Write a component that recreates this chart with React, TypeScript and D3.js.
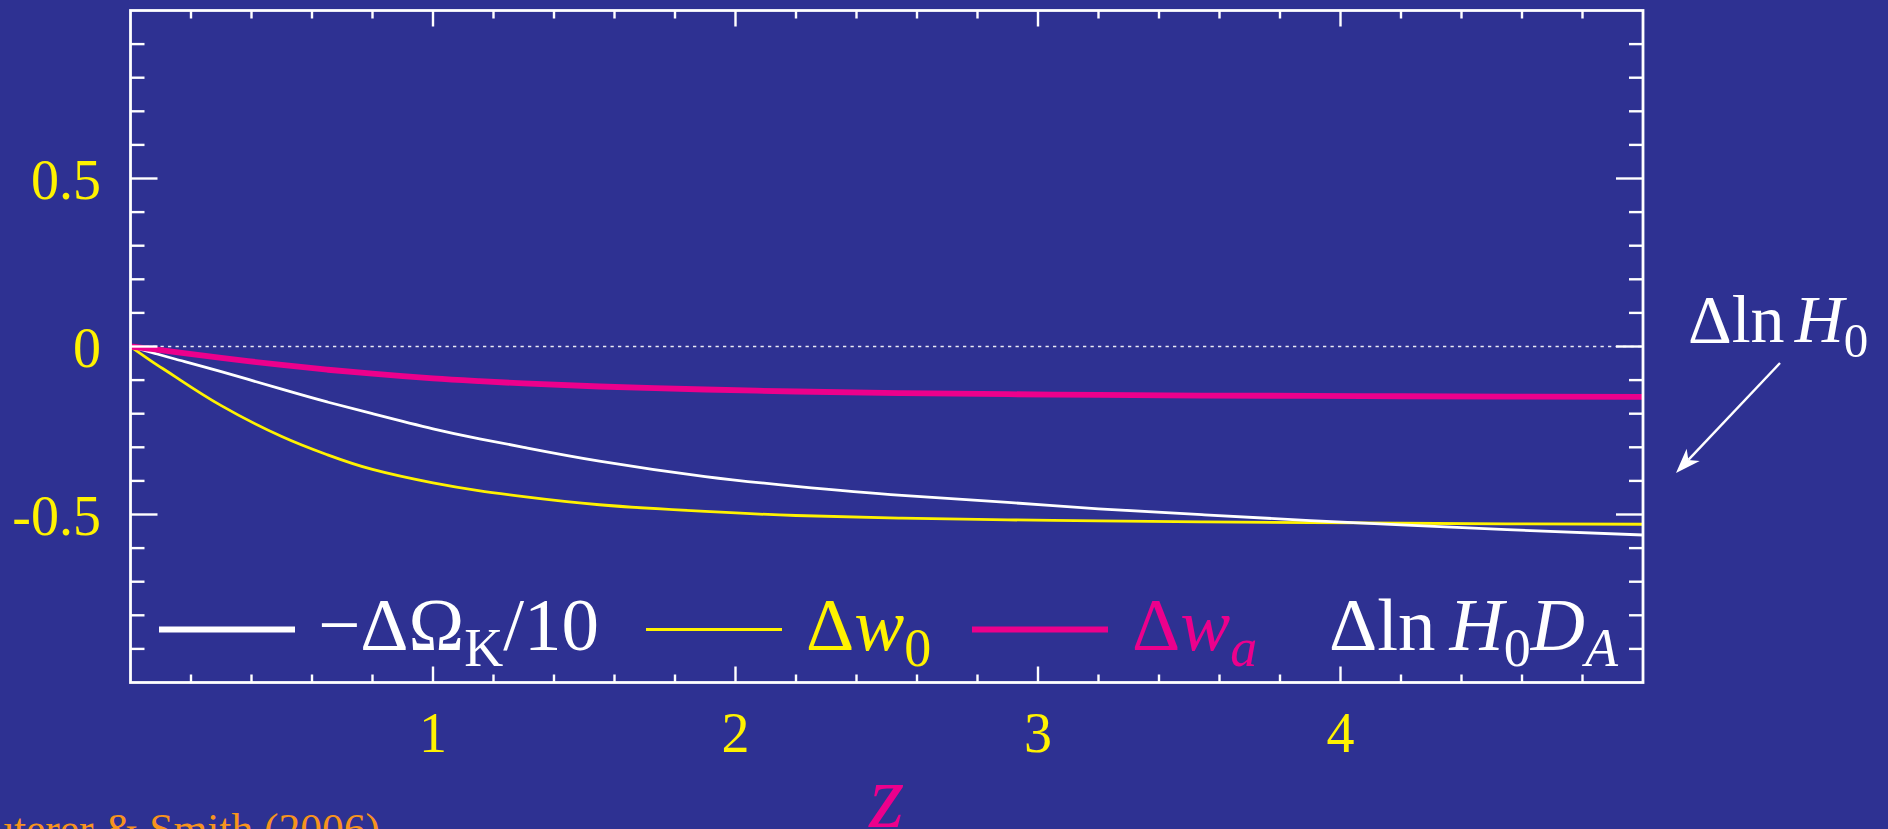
import React from "react";
import * as d3 from "d3";

// Redshift samples and the three parameter responses
const redshift = [0, 0.075, 0.15, 0.3, 0.5, 0.65, 0.8, 1.0, 1.15, 1.3, 1.55, 1.9, 2.2, 2.55, 2.9, 3.2, 3.55, 3.9, 4.2, 4.55, 5.0];
const dOmegaK = [0, -0.019, -0.038, -0.075, -0.127, -0.165, -0.2, -0.245, -0.274, -0.3, -0.341, -0.387, -0.416, -0.443, -0.464, -0.483, -0.501, -0.518, -0.531, -0.545, -0.561];
const dW0 = [0, -0.047, -0.091, -0.176, -0.268, -0.322, -0.366, -0.406, -0.429, -0.447, -0.471, -0.491, -0.503, -0.511, -0.516, -0.519, -0.522, -0.524, -0.526, -0.528, -0.529];
const dWa = [0, -0.008, -0.017, -0.034, -0.055, -0.069, -0.081, -0.095, -0.103, -0.11, -0.119, -0.128, -0.134, -0.139, -0.142, -0.144, -0.146, -0.147, -0.148, -0.149, -0.15];

const xTickValues = [1, 2, 3, 4];
const xTickLabels = ["1", "2", "3", "4"];
const yTickValues = [-0.5, 0, 0.5];
const yTickLabels = ["-0.5", "0", "0.5"];

const W = 1888;
const H = 829;
const BG = "#2E3192";
const YELLOW = "#FFF200";
const MAGENTA = "#EC008C";
const ORANGE = "#F7941D";
const WHITE = "#FFFFFF";
const FONT = "'Liberation Serif', 'Times New Roman', Times, serif";

const plot = { left: 130.5, right: 1643, top: 10.5, bottom: 682.5 };

export default function App() {
  const x = d3.scaleLinear().domain([0, 5]).range([plot.left, plot.right]);
  const y = d3.scaleLinear().domain([-1, 1]).range([plot.bottom, plot.top]);

  const line = d3
    .line<number>()
    .x((_, i) => x(redshift[i]))
    .y((d) => y(d))
    .curve(d3.curveNatural);

  const xMinor = d3.range(0.2, 5, 0.2).filter((v) => Math.abs(v - Math.round(v)) > 1e-6);
  const yMinor = d3.range(-0.9, 0.95, 0.1).filter((v) => Math.abs(v * 2 - Math.round(v * 2)) > 1e-6);

  const xMajorLen = 16, xMinorLen = 8, yMajorLen = 27, yMinorLen = 14;

  // legend layout
  const legY = 629.5;
  const legBase = 650;
  const lineLen = 136;
  const legendRows = [
    { x0: 159, color: WHITE, width: 6 },
    { x0: 646, color: YELLOW, width: 3 },
    { x0: 972, color: MAGENTA, width: 6 },
  ];
  const textGap = 23;
  const FS = 75;
  const SUB = 54;
  const SUBDY = 16;

  // annotation arrow
  const aStart: [number, number] = [1780, 363];
  const aTip: [number, number] = [1676, 473];
  const dx = aTip[0] - aStart[0], dy = aTip[1] - aStart[1];
  const len = Math.hypot(dx, dy);
  const ux = dx / len, uy = dy / len;
  const nx = -uy, ny = ux;
  const headL = 25, headW = 9;
  const bx = aTip[0] - ux * headL, by = aTip[1] - uy * headL;
  const notchX = aTip[0] - ux * headL * 0.72, notchY = aTip[1] - uy * headL * 0.72;
  const head = [
    [aTip[0], aTip[1]],
    [bx + nx * headW, by + ny * headW],
    [notchX, notchY],
    [bx - nx * headW, by - ny * headW],
  ]
    .map((p) => p.join(","))
    .join(" ");

  return (
    <svg
      width={W}
      height={H}
      viewBox={`0 0 ${W} ${H}`}
      style={{ position: "absolute", left: 0, top: 0, display: "block" }}
      fontFamily={FONT}
    >
      <rect x={0} y={0} width={W} height={H} fill={BG} />

      {/* zero reference */}
      <line
        x1={plot.left}
        x2={plot.right}
        y1={y(0)}
        y2={y(0)}
        stroke={WHITE}
        strokeWidth={1.6}
        strokeDasharray="3.3,4.2"
        opacity={0.9}
      />

      {/* curves */}
      <path d={line(dW0) || ""} fill="none" stroke={YELLOW} strokeWidth={2.8} />
      <path d={line(dOmegaK) || ""} fill="none" stroke={WHITE} strokeWidth={2.8} />
      <path d={line(dWa) || ""} fill="none" stroke={MAGENTA} strokeWidth={5.8} />

      {/* frame */}
      <rect
        x={plot.left}
        y={plot.top}
        width={plot.right - plot.left}
        height={plot.bottom - plot.top}
        fill="none"
        stroke={WHITE}
        strokeWidth={2.8}
      />

      {/* ticks on all four sides */}
      <g stroke={WHITE} strokeWidth={2.4}>
        {xTickValues.map((v) => (
          <g key={"xM" + v}>
            <line x1={x(v)} x2={x(v)} y1={plot.bottom} y2={plot.bottom - xMajorLen} />
            <line x1={x(v)} x2={x(v)} y1={plot.top} y2={plot.top + xMajorLen} />
          </g>
        ))}
        {xMinor.map((v) => (
          <g key={"xm" + v}>
            <line x1={x(v)} x2={x(v)} y1={plot.bottom} y2={plot.bottom - xMinorLen} />
            <line x1={x(v)} x2={x(v)} y1={plot.top} y2={plot.top + xMinorLen} />
          </g>
        ))}
        {yTickValues.map((v) => (
          <g key={"yM" + v}>
            <line x1={plot.left} x2={plot.left + yMajorLen} y1={y(v)} y2={y(v)} />
            <line x1={plot.right} x2={plot.right - yMajorLen} y1={y(v)} y2={y(v)} />
          </g>
        ))}
        {yMinor.map((v) => (
          <g key={"ym" + v.toFixed(2)}>
            <line x1={plot.left} x2={plot.left + yMinorLen} y1={y(v)} y2={y(v)} />
            <line x1={plot.right} x2={plot.right - yMinorLen} y1={y(v)} y2={y(v)} />
          </g>
        ))}
      </g>

      {/* tick labels */}
      <g fill={YELLOW} fontSize={56}>
        {xTickValues.map((v, i) => (
          <text key={"xl" + v} x={x(v)} y={752} textAnchor="middle">
            {xTickLabels[i]}
          </text>
        ))}
        {yTickValues.map((v, i) => (
          <text key={"yl" + v} x={101} y={y(v) + 20} textAnchor="end">
            {yTickLabels[i]}
          </text>
        ))}
      </g>

      {/* axis title */}
      <text x={(plot.left + plot.right) / 2} y={827} fill={MAGENTA} fontSize={90} fontStyle="italic" textAnchor="middle">
        z
      </text>

      {/* legend */}
      {legendRows.map((r, i) => (
        <line
          key={"leg" + i}
          x1={r.x0}
          x2={r.x0 + lineLen}
          y1={legY}
          y2={legY}
          stroke={r.color}
          strokeWidth={r.width}
        />
      ))}
      <text x={legendRows[0].x0 + lineLen + textGap} y={legBase} fill={WHITE} fontSize={FS}>
        <tspan>−ΔΩ</tspan>
        <tspan fontSize={SUB} dy={SUBDY}>K</tspan>
        <tspan dy={-SUBDY}>/10</tspan>
      </text>
      <text x={legendRows[1].x0 + lineLen + textGap + 1} y={legBase} fill={YELLOW} fontSize={FS}>
        <tspan>Δ</tspan>
        <tspan fontStyle="italic">w</tspan>
        <tspan fontSize={SUB} dy={SUBDY}>0</tspan>
      </text>
      <text x={legendRows[2].x0 + lineLen + textGap + 1} y={legBase} fill={MAGENTA} fontSize={FS}>
        <tspan>Δ</tspan>
        <tspan fontStyle="italic">w</tspan>
        <tspan fontSize={SUB} fontStyle="italic" dy={SUBDY}>a</tspan>
      </text>
      <text x={1329} y={legBase} fill={WHITE} fontSize={FS}>
        <tspan>Δln</tspan>
        <tspan fontStyle="italic" dx={14}>H</tspan>
        <tspan fontSize={SUB} dy={SUBDY}>0</tspan>
        <tspan fontStyle="italic" dy={-SUBDY}>D</tspan>
        <tspan fontSize={SUB} fontStyle="italic" dy={SUBDY}>A</tspan>
      </text>

      {/* annotation */}
      <text x={1688} y={342} fill={WHITE} fontSize={68}>
        <tspan>Δln</tspan>
        <tspan fontStyle="italic" dx={10}>H</tspan>
        <tspan fontSize={49} dy={15}>0</tspan>
      </text>
      <line x1={aStart[0]} y1={aStart[1]} x2={notchX} y2={notchY} stroke={WHITE} strokeWidth={2.4} />
      <polygon points={head} fill={WHITE} />

      {/* citation */}
      <text x={380} y={844} fill={ORANGE} fontSize={43.5} textAnchor="end">
        Hu, Huterer &amp; Smith (2006)
      </text>
    </svg>
  );
}
